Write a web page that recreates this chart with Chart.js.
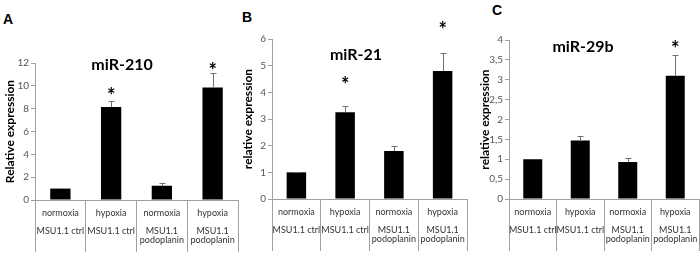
<!DOCTYPE html>
<html lang="en">
<head>
<meta charset="UTF-8">
<title>miR-210 / miR-21 / miR-29b expression</title>
<style>
  body { margin: 0; background: #fff; }
  #wrap { position: relative; width: 700px; height: 256px; overflow: hidden; }
  .panel { position: absolute; top: 0; }
  .letter { position: absolute; font: bold 14px "Liberation Sans", Arial, sans-serif; line-height: 14px; color: #000; }
</style>
<script src="https://cdn.jsdelivr.net/npm/chart.js"></script>
</head>
<body>
<div id="wrap">
  <div class="letter" style="left:3px;top:12px">A</div>
  <div class="letter" style="left:242px;top:10px">B</div>
  <div class="letter" style="left:492px;top:3px">C</div>
  <canvas id="chartA" class="panel" style="left:0px" width="240" height="256"></canvas>
  <canvas id="chartB" class="panel" style="left:238px" width="231" height="256"></canvas>
  <canvas id="chartC" class="panel" style="left:475px" width="225" height="256"></canvas>
</div>
<script>
// categories (two-level labels shown in the table under each chart)
const categories = [
  ['normoxia', '', 'MSU1.1 ctrl'],
  ['hypoxia', '', 'MSU1.1 ctrl'],
  ['normoxia', '', 'MSU1.1', 'podoplanin'],
  ['hypoxia', '', 'MSU1.1', 'podoplanin']
];

// A: miR-210
const mir210 = [1.0, 8.15, 1.25, 9.85];
const mir210Err = [0, 0.5, 0.2, 1.3];
const mir210Star = [null, 9.4, null, 11.6];
const mir210Ticks = ['0', '2', '4', '6', '8', '10', '12'];

// B: miR-21
const mir21 = [1.0, 3.25, 1.8, 4.8];
const mir21Err = [0.03, 0.22, 0.2, 0.68];
const mir21Star = [null, 4.4, null, 6.45];
const mir21Ticks = ['0', '1', '2', '3', '4', '5', '6'];

// C: miR-29b
const mir29b = [1.0, 1.47, 0.93, 3.1];
const mir29bErr = [0, 0.11, 0.11, 0.52];
const mir29bStar = [null, null, null, 3.85];
const mir29bTicks = ['0', '0,5', '1', '1,5', '2', '2,5', '3', '3,5', '4'];

const FONT = 'Lato, "Liberation Sans", sans-serif';
const AXIS = '#a0a0a0';

// error bars (upper half only) and significance asterisks
const marksPlugin = {
  id: 'marks',
  afterDatasetsDraw(chart, args, opts) {
    const ctx = chart.ctx;
    const y = chart.scales.y;
    const meta = chart.getDatasetMeta(0);
    ctx.save();
    ctx.strokeStyle = '#707070';
    ctx.lineWidth = 1;
    opts.errors.forEach((e, i) => {
      if (!e) return;
      const bar = meta.data[i];
      const px = Math.round(bar.x) + 0.5;
      const top = Math.round(y.getPixelForValue(opts.values[i] + e)) + 0.5;
      ctx.beginPath();
      ctx.moveTo(px, bar.y);
      ctx.lineTo(px, top);
      ctx.moveTo(px - 3, top);
      ctx.lineTo(px + 3, top);
      ctx.stroke();
    });
    ctx.fillStyle = '#000';
    ctx.font = 'bold 20px ' + FONT;
    ctx.textAlign = 'center';
    ctx.textBaseline = 'middle';
    opts.stars.forEach((s, i) => {
      if (s == null) return;
      ctx.fillText('*', meta.data[i].x, y.getPixelForValue(s) + 4);
    });
    ctx.restore();
  }
};

// chart title drawn inside the plot area
const headPlugin = {
  id: 'head',
  afterDraw(chart, args, opts) {
    const ctx = chart.ctx;
    ctx.save();
    ctx.fillStyle = '#000';
    ctx.font = 'bold 16px ' + FONT;
    ctx.textAlign = 'center';
    ctx.textBaseline = 'middle';
    ctx.fillText(opts.text, opts.x, opts.y);
    ctx.restore();
  }
};

function makePanel(id, cfg) {
  new Chart(document.getElementById(id), {
    type: 'bar',
    data: {
      labels: categories,
      datasets: [{
        data: cfg.values,
        backgroundColor: '#000',
        borderWidth: 0,
        barPercentage: 0.4,
        categoryPercentage: 1
      }]
    },
    options: {
      responsive: false,
      animation: false,
      layout: { padding: { top: cfg.top, right: cfg.right, left: 0, bottom: 0 } },
      plugins: {
        legend: { display: false },
        tooltip: { enabled: false },
        marks: { values: cfg.values, errors: cfg.errors, stars: cfg.stars },
        head: { text: cfg.title, x: cfg.titleX, y: cfg.titleY }
      },
      scales: {
        x: {
          grid: { display: true, drawOnChartArea: false, drawTicks: true, tickLength: 52, color: AXIS, offset: true },
          border: { color: AXIS },
          ticks: {
            font: { family: FONT, size: 9, lineHeight: '9px' },
            color: '#333',
            padding: -43.5,
            maxRotation: 0,
            autoSkip: false
          },
          afterFit: s => { s.height = 256 - cfg.bottom; }
        },
        y: {
          min: 0,
          max: cfg.max,
          grid: { display: true, drawOnChartArea: false, drawTicks: true, tickLength: 4, color: AXIS },
          border: { color: AXIS },
          ticks: {
            stepSize: cfg.step,
            padding: 2,
            font: { family: FONT, size: 10 },
            color: '#555',
            callback: (v, i) => cfg.ticks[i]
          },
          title: {
            display: true,
            text: cfg.yTitle,
            color: '#000',
            font: { family: FONT, size: 12, weight: 'bold' },
            padding: { top: 2.8, bottom: 0 }
          },
          afterFit: s => { s.width = cfg.yw; }
        }
      }
    },
    plugins: [marksPlugin, headPlugin]
  });
}

makePanel('chartA', {
  values: mir210, errors: mir210Err, stars: mir210Star, ticks: mir210Ticks,
  max: 12, step: 2, top: 63, bottom: 200, right: 2, yw: 35,
  yTitle: 'Relative expression', title: 'miR-210', titleX: 122, titleY: 65
});
makePanel('chartB', {
  values: mir21, errors: mir21Err, stars: mir21Star, ticks: mir21Ticks,
  max: 6, step: 1, top: 39, bottom: 199, right: 2, yw: 34,
  yTitle: 'relative expression', title: 'miR-21', titleX: 118, titleY: 55
});
makePanel('chartC', {
  values: mir29b, errors: mir29bErr, stars: mir29bStar, ticks: mir29bTicks,
  max: 4, step: 0.5, top: 40, bottom: 199, right: 1, yw: 34,
  yTitle: 'relative expression', title: 'miR-29b', titleX: 108, titleY: 47
});
</script>
</body>
</html>
